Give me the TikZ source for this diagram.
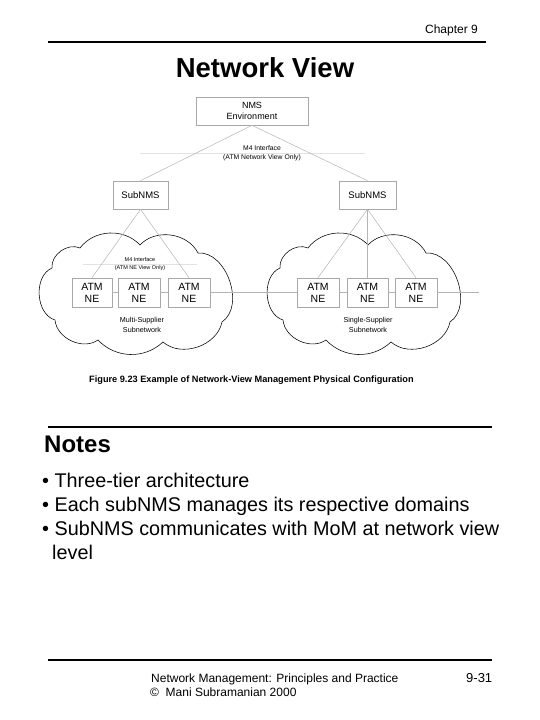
\documentclass[tikz,border=0pt]{standalone}
\usepackage{fontspec}
\setmainfont{Liberation Sans}
\definecolor{boxgray}{HTML}{A8A8A8}
\definecolor{linegray}{HTML}{B4B4B4}
\definecolor{faintgray}{HTML}{E2E2E2}
\begin{document}
\begin{tikzpicture}[x=1pt,y=-1pt,
  box/.style={draw=boxgray, line width=0.6pt, inner sep=0pt, align=center, minimum height=28pt},
  atm/.style={box, minimum height=29pt, font=\fontsize{10.5}{12}\selectfont},
  sub/.style={box, font=\fontsize{9.5}{11}\selectfont},
  conn/.style={draw=linegray, line width=0.5pt},
  faint/.style={draw=faintgray, line width=0.6pt},
  cloudline/.style={draw=black, line width=0.55pt},
  small/.style={align=center, inner sep=0pt},
  rule/.style={draw=black, line width=1.6pt}]
\useasboundingbox (0,0) rectangle (540,720);

% header
\node[anchor=base east, inner sep=0pt, font=\fontsize{12}{14}\selectfont] (chap) at (478,33) {Chapter 9};
\coordinate (tl1) at (48,42); \coordinate (tl2) at (486,42);
\draw[rule] (tl1) -- (tl2);
\node[anchor=base, inner sep=0pt, font=\fontsize{27.5}{31}\bfseries] (title) at (265,77) {Network View};

% clouds
\foreach \dx in {0,228}{
\begin{scope}[xshift=\dx]
\draw[cloudline] (140,245) to[bend left=55] (198,253)
  to[bend left=75] (222,322)
  to[bend left=60] (163,342)
  to[bend left=45] (98,340)
  to[bend left=60] (55,320)
  to[bend left=70] (52,268)
  to[bend left=60] (80,248)
  to[bend left=50] (140,245) -- cycle;
\end{scope}}

% faint interface lines
\coordinate (f1a) at (140,153); \coordinate (f1b) at (365,153);
\draw[faint] (f1a) -- (f1b);
\coordinate (f2a) at (83,264); \coordinate (f2b) at (197,264);
\draw[faint] (f2a) -- (f2b);

% boxes
\node[box, minimum width=112pt, font=\fontsize{9}{10.5}\selectfont] (nms) at (252,111) {NMS\\Environment};
\node[sub, minimum width=55pt] (lsub) at (140.5,195) {SubNMS};
\node[sub, minimum width=57pt] (rsub) at (367.5,195) {SubNMS};

\node[atm, minimum width=40pt] (la) at (92,292.5) {ATM\\NE};
\node[atm, minimum width=42pt] (lb) at (139,292.5) {ATM\\NE};
\node[atm, minimum width=42pt] (lc) at (189,292.5) {ATM\\NE};
\node[atm, minimum width=42pt] (ra) at (318,292.5) {ATM\\NE};
\node[atm, minimum width=41pt] (rb) at (367.5,292.5) {ATM\\NE};
\node[atm, minimum width=42pt] (rc) at (416,292.5) {ATM\\NE};

% labels
\node[small, font=\fontsize{6.8}{9.5}\selectfont] (m4a) at (262,153) {M4 Interface\\(ATM Network View Only)};
\node[small, font=\fontsize{5.5}{7.5}\selectfont] (m4b) at (140,264) {M4 Interface\\(ATM NE View Only)};
\node[small, font=\fontsize{7.2}{10}\selectfont] (ms) at (142,325) {Multi-Supplier\\Subnetwork};
\node[small, font=\fontsize{7.2}{10}\selectfont] (ss) at (368,325) {Single-Supplier\\Subnetwork};

% connectors
\draw[conn] (nms.south) -- (lsub.north);
\draw[conn] (nms.south) -- (rsub.north);
\draw[conn] (lsub.south) -- (la.north);
\draw[conn] (lsub.south) -- (lc.north);
\draw[conn] (rsub.south) -- (ra.north);
\draw[conn] (rsub.south) -- (rb.north);
\draw[conn] (rsub.south) -- (rc.north);
\draw[conn] (la.east) -- (lb.west);
\draw[conn] (lb.east) -- (lc.west);
\draw[conn] (lc.east) -- (ra.west);
\draw[conn] (ra.east) -- (rb.west);
\draw[conn] (rb.east) -- (rc.west);
\coordinate (rend) at (479,292.5);
\draw[conn] (rc.east) -- (rend);

% caption
\node[anchor=base west, inner sep=0pt, font=\fontsize{9.2}{10}\bfseries] (cap) at (89,382) {Figure 9.23 Example of Network-View Management Physical Configuration};

% notes
\coordinate (nl1) at (48,427); \coordinate (nl2) at (492,427);
\draw[rule] (nl1) -- (nl2);
\node[anchor=base west, inner sep=0pt, font=\fontsize{24}{28}\bfseries] (notes) at (44,452) {Notes};
\begin{scope}[every node/.style={anchor=base west, inner sep=0pt, font=\fontsize{19.8}{22}\selectfont}]
\node (b1) at (42,487) {• Three-tier architecture};
\node (b2) at (42,511) {• Each subNMS manages its respective domains};
\node (b3) at (42,535) {• SubNMS communicates with MoM at network view};
\node (b4) at (52,559) {level};
\end{scope}

% footer
\coordinate (bl1) at (48,660); \coordinate (bl2) at (492,660);
\draw[rule] (bl1) -- (bl2);
\node[anchor=base west, inner sep=0pt, font=\fontsize{12}{14}\selectfont] (f1) at (151,682) {Network Management: Principles and Practice};
\node[anchor=base west, inner sep=0pt, font=\fontsize{12}{14}\selectfont] (f2) at (150,696) {©\ \ Mani Subramanian 2000};
\node[anchor=base west, inner sep=0pt, font=\fontsize{13}{15}\selectfont] (pg) at (466,682) {9-31};
\end{tikzpicture}
\end{document}
